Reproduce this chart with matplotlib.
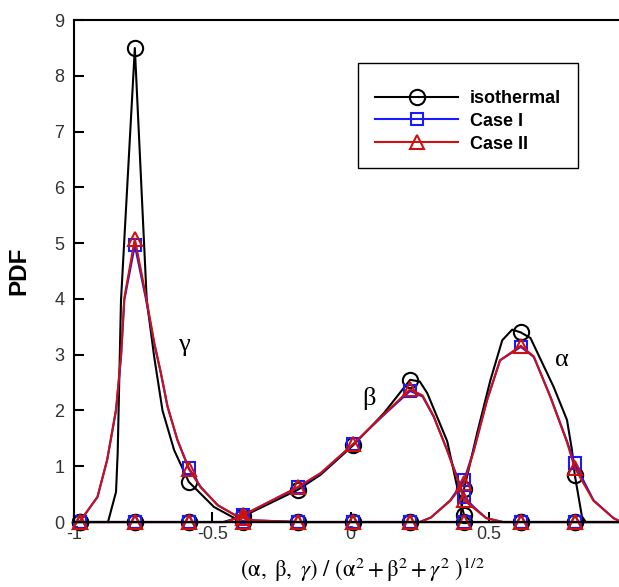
import numpy as np
import matplotlib
matplotlib.use("Agg")
from matplotlib import pyplot as plt
from matplotlib.patches import Rectangle

plt.rcParams["font.family"] = "Liberation Sans"
plt.rcParams["mathtext.fontset"] = "stix"

# marker positions (every few samples along each curve)
MX = [-0.98, -0.78, -0.585, -0.39, -0.19, 0.01, 0.215, 0.41, 0.615, 0.81]

# isothermal: gamma, beta, alpha components
iso_g_x = [-1.0, -0.98, -0.877, -0.848, -0.842, -0.83, -0.78, -0.737, -0.71, -0.68, -0.638, -0.585,
           -0.494, -0.42, -0.39, -0.19, 0.01, 0.215, 0.41, 0.615, 0.81, 0.97]
iso_g_y = [0, 0, 0, 0.54, 1.24, 3.98, 8.5, 3.98, 2.96, 2.0, 1.29, 0.72,
           0.27, 0.07, 0.02, 0, 0, 0, 0, 0, 0, 0]

iso_b_x = [-1.0, -0.98, -0.78, -0.585, -0.46, -0.39, -0.19, -0.108, 0.01, 0.12, 0.215, 0.25,
           0.277, 0.349, 0.385, 0.41, 0.44, 0.615, 0.81, 0.97]
iso_b_y = [0, 0, 0, 0, 0, 0.1, 0.58, 0.85, 1.38, 1.95, 2.55, 2.52,
           2.31, 1.45, 0.63, 0.12, 0, 0, 0, 0]

iso_a_x = [-1.0, -0.98, -0.78, -0.585, -0.39, -0.19, 0.01, 0.215, 0.395, 0.41, 0.42, 0.457,
           0.505, 0.548, 0.584, 0.615, 0.65, 0.734, 0.782, 0.80, 0.81, 0.836, 0.85, 0.97]
iso_a_y = [0, 0, 0, 0, 0, 0, 0, 0, 0, 0.6, 0.8, 1.59,
           2.54, 3.26, 3.45, 3.4, 3.3, 2.42, 1.83, 1.29, 0.85, 0.1, 0, 0]

# Case I
c1_g_x = [-1.0, -0.98, -0.915, -0.88, -0.848, -0.83, -0.818, -0.78, -0.74, -0.71, -0.686, -0.662,
          -0.626, -0.585, -0.542, -0.48, -0.42, -0.39, -0.35, -0.19, 0.01, 0.215, 0.41, 0.615, 0.81, 0.97]
c1_g_y = [0, 0, 0.45, 1.11, 2.0, 2.96, 3.98, 4.96, 4.0, 3.2, 2.67, 2.07,
          1.47, 0.97, 0.63, 0.3, 0.13, 0.08, 0.03, 0, 0, 0, 0, 0, 0, 0]

c1_b_x = [-1.0, -0.98, -0.78, -0.585, -0.45, -0.39, -0.19, -0.108, 0.01, 0.12, 0.215, 0.26,
          0.30, 0.349, 0.385, 0.41, 0.445, 0.49, 0.55, 0.615, 0.81, 0.97]
c1_b_y = [0, 0, 0, 0, 0, 0.12, 0.62, 0.87, 1.4, 1.92, 2.35, 2.25,
          1.89, 1.29, 0.81, 0.45, 0.27, 0.07, 0, 0, 0, 0]

c1_a_x = [-1.0, -0.98, -0.78, -0.585, -0.39, -0.19, 0.01, 0.215, 0.25, 0.29, 0.36, 0.41,
          0.445, 0.493, 0.54, 0.615, 0.662, 0.722, 0.782, 0.81, 0.878, 0.95, 0.97]
c1_a_y = [0, 0, 0, 0, 0, 0, 0, 0, 0, 0.08, 0.39, 0.75,
          1.29, 2.19, 2.9, 3.14, 2.96, 2.25, 1.45, 1.05, 0.39, 0.07, 0.02]

# Case II
c2_g_x = c1_g_x
c2_g_y = [0, 0, 0.45, 1.12, 2.02, 2.98, 4.02, 5.08, 4.05, 3.22, 2.68, 2.08,
          1.47, 0.95, 0.62, 0.3, 0.13, 0.08, 0.03, 0, 0, 0, 0, 0, 0, 0]

c2_b_x = c1_b_x
c2_b_y = [0, 0, 0, 0, 0, 0.12, 0.63, 0.88, 1.4, 1.93, 2.38, 2.27,
          1.9, 1.28, 0.78, 0.39, 0.25, 0.07, 0, 0, 0, 0]

c2_a_x = c1_a_x
c2_a_y = [0, 0, 0, 0, 0, 0, 0, 0, 0, 0.08, 0.38, 0.7,
          1.27, 2.18, 2.9, 3.16, 2.97, 2.24, 1.43, 0.97, 0.38, 0.07, 0.02]

series = [
    ("isothermal", "black", "o", 11, [(iso_g_x, iso_g_y), (iso_b_x, iso_b_y), (iso_a_x, iso_a_y)]),
    ("Case I", "#1a1aff", "s", 8.5, [(c1_g_x, c1_g_y), (c1_b_x, c1_b_y), (c1_a_x, c1_a_y)]),
    ("Case II", "#cc1111", "^", 10, [(c2_g_x, c2_g_y), (c2_b_x, c2_b_y), (c2_a_x, c2_a_y)]),
]

fig = plt.figure(figsize=(6.19, 5.87), dpi=100)
ax = fig.add_axes([0.1195, 0.1107, 0.8805, 0.855])

for name, color, marker, ms, parts in series:
    for i, (xs, ys) in enumerate(parts):
        xs = np.array(xs)
        mask = np.isin(np.round(xs, 3), MX)
        ax.plot(xs, ys, color=color, lw=1.5, marker=marker, ms=ms, mfc="none",
                mew=1.5, markevery=list(mask), label=name if i == 0 else None,
                clip_on=False)

ax.set_xlim(-1, 0.97)
ax.set_ylim(0, 9)
ax.set_xticks([-1, -0.5, 0, 0.5])
ax.set_xticklabels(["-1", "-0.5", "0", "0.5"])
ax.set_yticks(range(10))
ax.tick_params(direction="in", length=7, width=1.5, labelsize=13, labelcolor="#333333")
ax.tick_params(axis="x", pad=3)
ax.tick_params(axis="y", pad=7)
for s in ["left", "bottom", "top"]:
    ax.spines[s].set_linewidth(1.5)
ax.spines["right"].set_visible(False)

ax.set_ylabel("PDF", fontsize=17.5, fontweight="bold")
ax.yaxis.set_label_coords((30 - 74) / 545, 0.5)

fig.text(362 / 619, 1 - 570 / 587,
         r"$(\mathrm{\alpha},\ \mathrm{\beta},\ \gamma)\ /\ (\mathrm{\alpha}^2+\mathrm{\beta}^2+\gamma^2\ )^{1/2}$",
         ha="center", va="center", fontsize=16.5)

ax.text(-0.603, 3.17, "γ", family="Liberation Serif", fontsize=19, ha="center", va="center")
ax.text(0.065, 2.22, "β", family="Liberation Serif", fontsize=19, ha="center", va="center")
ax.text(0.765, 2.9, "α", family="Liberation Serif", fontsize=19, ha="center", va="center")

# legend box drawn separately, entries placed inside it
fig.patches.append(Rectangle((358 / 619, 1 - 168 / 587), 220 / 619, 105 / 587,
                             transform=fig.transFigure, fill=False, ec="black", lw=1.0))
leg = ax.legend(loc="upper left", bbox_to_anchor=(375 / 619, 1 - 90 / 587),
                bbox_transform=fig.transFigure, borderaxespad=0, borderpad=0,
                frameon=False, handlelength=4.6, handletextpad=0.66, labelspacing=0.32,
                prop={"weight": "bold", "size": 13})

fig.savefig("out.png", dpi=100)
